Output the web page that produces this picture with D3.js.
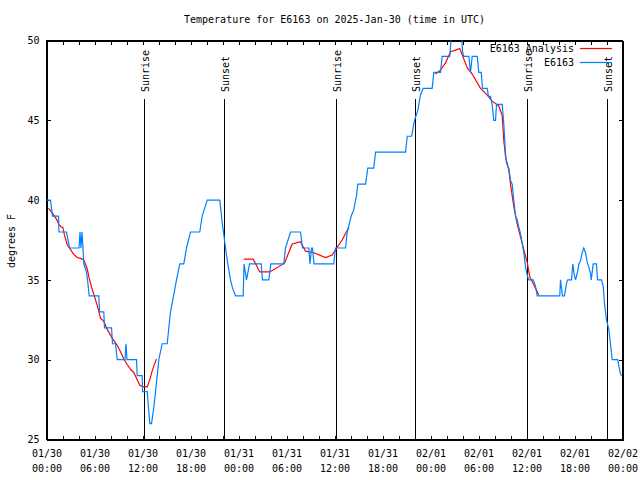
<!DOCTYPE html>
<html><head><meta charset="utf-8">
<script src="https://cdn.jsdelivr.net/npm/d3@7"></script>
<style>body{margin:0;background:#fff}svg text{font-family:"DejaVu Sans Mono",monospace;font-size:10px;fill:#000}</style>
</head><body>
<svg id="c" width="640" height="480"></svg>
<script>
const chartTitle = "Temperature for E6163 on 2025-Jan-30 (time in UTC)";
const yLabel = "degrees F";
const startTime = Date.UTC(2025, 0, 30, 0, 0);
const totalHours = 72;
const yTickValues = [25, 30, 35, 40, 45, 50];
const seriesNames = ["E6163 Analysis", "E6163"];
const seriesColors = ["#ff0000", "#0080ff"];

// observations: hours since 01/30 00:00 UTC, degrees F
const obsHours = [0.00,0.50,0.75,1.50,1.56,2.50,2.88,4.06,4.19,4.31,4.44,4.56,4.66,5.00,5.13,5.34,6.54,6.63,7.16,7.25,8.13,8.25,8.63,8.84,9.81,9.94,10.06,11.25,11.34,11.96,12.00,12.59,12.75,12.91,13.13,13.41,13.63,13.84,14.04,14.46,15.09,15.29,15.50,15.88,16.25,16.66,17.16,17.50,18.00,19.16,19.46,20.09,21.66,21.96,22.38,22.66,23.00,23.25,23.63,24.59,24.69,25.00,25.38,26.84,27.00,27.79,28.04,29.66,29.88,30.50,31.75,32.00,32.79,32.94,33.13,33.25,33.44,35.91,36.13,37.38,37.59,38.09,38.41,38.75,38.91,39.88,40.16,40.91,41.13,44.88,45.09,45.63,46.00,46.41,46.75,47.09,48.21,48.41,49.25,49.46,50.41,50.63,51.88,52.00,52.16,52.79,53.00,53.21,53.84,54.04,54.34,54.50,55.09,55.25,55.50,55.71,55.91,56.13,56.25,56.96,57.16,57.38,57.50,57.79,58.00,58.21,58.41,58.63,58.84,59.04,59.25,59.46,59.66,59.88,60.09,60.29,60.84,61.13,61.34,64.16,64.25,64.50,64.75,65.00,65.16,65.63,65.79,65.94,66.13,66.34,66.54,66.75,66.96,67.16,67.38,67.59,67.79,68.00,68.09,68.34,68.75,68.88,69.38,69.59,69.75,70.00,70.29,70.50,70.71,71.41,71.54,71.75,71.88];
const obsTemps = [40,40,39,39,38,38,37,37,38,37,38,37,36,35.5,35,34,34,33,33,32,32,31,31,30,30,31,30,30,29,29,28,28,27,26,26,27,28,29,30,31,31,32,33,34,35,36,36,37,38,38,39,40,40,38.6,37,36,35,34.5,34,34,36,35,36,36,35,35,36,36,37,38,38,37,37,36,37,37,36,36,37,37,38,39,39.4,40.3,41,41,42,42,43,43,44,44,45,45.6,46.6,47,47,48,48,49,49,50.5,50.5,49.3,49,49,48,49,49,48,48,47,47,46.5,46.5,46,45,45,46,46,44.8,42.9,42.3,42,41.25,41,40,39,38.75,38.3,37.9,37.3,36.7,35.8,35.3,35,35,34.6,34,34,35,34,34,34.8,35,35,36,35.4,35,35.4,36,36.2,36.7,37,36.7,36.1,35.8,35.4,35,36,36,35,35,34.6,33.5,32.5,31.9,31,30,30,29.6,29.1,29];

// analysis: null marks a gap
const anaHours = [0.25,0.71,1.13,1.54,1.84,2.04,2.25,2.59,3.00,3.41,3.84,4.25,4.66,5.09,5.29,5.50,5.71,5.91,6.34,6.75,7.16,7.59,8.21,8.84,9.25,9.66,10.09,10.50,10.91,11.34,11.66,12.09,12.59,12.91,13.21,13.41,13.75,
  null,
  24.66,25.84,26.66,27.91,29.75,30.71,31.75,32.38,33.41,34.88,35.71,36.13,36.96,37.79,
  null,
  48.63,49.16,49.88,50.50,51.13,51.66,51.96,52.59,53.21,54.25,54.88,55.71,56.54,56.96,57.16,57.38,57.79,58.00,58.41,58.84,59.25,59.66,60.09,60.41,60.91,61.54];
const anaTemps = [39.5,39.2,38.9,38.5,38.3,38.3,37.8,37.2,36.9,36.6,36.4,36.35,36.25,35.7,35.2,34.8,34.4,34.1,33.4,32.6,32.4,31.9,31.35,30.9,30.5,30.04,29.7,29.4,29.2,28.75,28.4,28.3,28.3,28.75,29.3,29.6,30.04,
  null,
  36.3,36.3,35.5,35.5,36.05,37.25,37.4,36.8,36.7,36.4,36.56,36.9,37.5,38.3,
  null,
  47.9,48.1,48.6,49.3,49.4,49.5,49.1,48.3,47.9,47.0,46.7,46.2,45.9,45.3,43.75,42.7,41.9,41.0,39.6,38.5,37.7,36.9,36.1,35.2,34.7,34.06];

const sunriseHours = [12.19, 36.19, 60.06];
const sunsetHours = [22.19, 46.06, 70.06];

const toDate = h => new Date(startTime + h * 3600e3);
const svg = d3.select("#c");
const L = 46.5, R = 622.5, T = 40.5, B = 439.5;
const x = d3.scaleUtc().domain([toDate(0), toDate(totalHours)]).range([L, R]);
const y = d3.scaleLinear().domain([25, 50]).range([B, T]);

svg.append("rect").attr("width", 640).attr("height", 480).attr("fill", "#fff");

svg.append("defs").append("clipPath").attr("id", "clip")
  .append("rect").attr("x", L).attr("y", T).attr("width", R - L).attr("height", B - T);

// axes ticks (inward, mirrored)
const tick2h = d3.utcHour.every(2);
const gB = svg.append("g").attr("transform", `translate(0,${B})`)
  .call(d3.axisBottom(x).ticks(tick2h).tickSize(-4).tickFormat(() => ""));
const gT = svg.append("g").attr("transform", `translate(0,${T})`)
  .call(d3.axisTop(x).ticks(tick2h).tickSize(-4).tickFormat(() => ""));
const gL = svg.append("g").attr("transform", `translate(${L},0)`)
  .call(d3.axisLeft(y).tickValues(yTickValues).tickSize(-4).tickPadding(7).tickFormat(d3.format("d")));
const gR = svg.append("g").attr("transform", `translate(${R},0)`)
  .call(d3.axisRight(y).tickValues(yTickValues).tickSize(-4).tickFormat(() => ""));
const gLab = svg.append("g").attr("transform", `translate(0,${B})`)
  .call(d3.axisBottom(x).ticks(d3.utcHour.every(6)).tickSize(0).tickPadding(10).tickFormat(d3.utcFormat("%m/%d")));
gLab.select(".domain").remove();
gLab.selectAll(".tick text").each(function(d) {
  const t = d3.select(this);
  t.text(null);
  t.append("tspan").attr("x", 0).text(d3.utcFormat("%m/%d")(d));
  t.append("tspan").attr("x", 0).attr("dy", 15).text(d3.utcFormat("%H:%M")(d));
});
[gB, gT, gL, gR].forEach(g => {
  g.selectAll("path,line").attr("stroke", "#000").attr("shape-rendering", "crispEdges");
  g.selectAll("text").attr("font-family", "DejaVu Sans Mono").attr("font-size", 10).attr("fill", "#000");
});
gLab.selectAll("text").attr("font-family", "DejaVu Sans Mono").attr("font-size", 10).attr("fill", "#000");

svg.append("rect").attr("x", L).attr("y", T).attr("width", R - L).attr("height", B - T)
  .attr("fill", "none").attr("stroke", "#000").attr("shape-rendering", "crispEdges");

// sun events
const sunEvents = sunriseHours.map(h => ({h, label: "Sunrise"}))
  .concat(sunsetHours.map(h => ({h, label: "Sunset"})));
const sg = svg.append("g");
sunEvents.forEach(e => {
  const px = Math.round(x(toDate(e.h))) + 0.5;
  sg.append("line").attr("x1", px).attr("x2", px).attr("y1", 99).attr("y2", B)
    .attr("stroke", "#000").attr("shape-rendering", "crispEdges");
  sg.append("text").attr("transform", `translate(${px + 4},92) rotate(-90)`)
    .attr("text-anchor", "start").text(e.label);
});

// lines
const obs = obsHours.map((h, i) => ({t: toDate(h), v: obsTemps[i]}));
const ana = anaHours.map((h, i) => ({t: h === null ? null : toDate(h), v: anaTemps[i]}));
const line = d3.line().defined(d => d.v !== null).x(d => x(d.t)).y(d => y(d.v));
const plot = svg.append("g").attr("clip-path", "url(#clip)");
plot.append("path").datum(ana).attr("d", line).attr("fill", "none")
  .attr("stroke", seriesColors[0]).attr("stroke-width", 1.2);
plot.append("path").datum(obs).attr("d", line).attr("fill", "none")
  .attr("stroke", seriesColors[1]).attr("stroke-width", 1.2);

// legend
const lg = svg.append("g");
seriesNames.forEach((name, i) => {
  const yy = 48.5 + i * 14;
  lg.append("text").attr("x", 574).attr("y", yy + 3.5).attr("text-anchor", "end").text(name);
  lg.append("line").attr("x1", 580).attr("x2", 612).attr("y1", yy).attr("y2", yy)
    .attr("stroke", seriesColors[i]).attr("stroke-width", 1.2);
});

// title and y label
svg.append("text").attr("x", (L + R) / 2).attr("y", 23).attr("text-anchor", "middle").text(chartTitle);
svg.append("text").attr("transform", "translate(15,241) rotate(-90)").attr("text-anchor", "middle").text(yLabel);
</script>
</body></html>
